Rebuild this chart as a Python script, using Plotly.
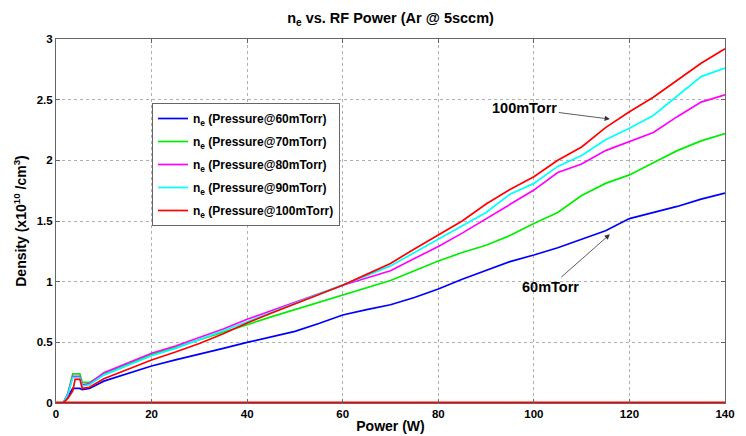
import plotly.graph_objects as go

power = [0, 1.5, 2.5, 3.5, 4, 5, 5.5, 7, 10, 15, 20, 25, 30, 35, 40, 45, 50, 55, 60, 65, 70,
         75, 80, 85, 90, 95, 100, 105, 110, 115, 120, 125, 130, 135, 140]

ne_60 = [0, 0, 0.05, 0.12, 0.12, 0.12, 0.11, 0.12, 0.18, 0.24, 0.305, 0.355, 0.40, 0.45, 0.50,
         0.545, 0.59, 0.655, 0.725, 0.77, 0.81, 0.87, 0.94, 1.02, 1.09, 1.165, 1.22, 1.28, 1.35,
         1.42, 1.52, 1.57, 1.62, 1.68, 1.73]
ne_70 = [0, 0, 0.08, 0.24, 0.24, 0.24, 0.17, 0.17, 0.24, 0.32, 0.40, 0.46, 0.52, 0.58, 0.645,
         0.71, 0.77, 0.83, 0.89, 0.95, 1.01, 1.09, 1.17, 1.24, 1.30, 1.38, 1.48, 1.57, 1.71,
         1.81, 1.88, 1.98, 2.08, 2.16, 2.22]
ne_80 = [0, 0, 0.08, 0.22, 0.22, 0.22, 0.15, 0.16, 0.25, 0.33, 0.41, 0.47, 0.54, 0.61, 0.69,
         0.76, 0.835, 0.90, 0.97, 1.03, 1.09, 1.19, 1.29, 1.40, 1.52, 1.64, 1.755, 1.90, 1.97,
         2.08, 2.155, 2.23, 2.36, 2.48, 2.54]
ne_90 = [0, 0, 0.07, 0.21, 0.21, 0.21, 0.14, 0.15, 0.23, 0.31, 0.39, 0.45, 0.52, 0.595, 0.67,
         0.745, 0.825, 0.90, 0.97, 1.05, 1.13, 1.24, 1.345, 1.46, 1.57, 1.72, 1.81, 1.95, 2.04,
         2.17, 2.265, 2.37, 2.53, 2.69, 2.76]
ne_100 = [0, 0, 0.04, 0.10, 0.195, 0.195, 0.12, 0.13, 0.20, 0.28, 0.355, 0.42, 0.49, 0.57, 0.66,
          0.74, 0.815, 0.89, 0.97, 1.06, 1.15, 1.27, 1.385, 1.50, 1.64, 1.76, 1.865, 2.00, 2.11,
          2.27, 2.40, 2.52, 2.66, 2.80, 2.92]

baseline_x = [0, 140]
baseline_y = [0, 0]

series = [
    ("60mTorr", ne_60, "#0000ff"),
    ("70mTorr", ne_70, "#00ee00"),
    ("80mTorr", ne_80, "#ff00ff"),
    ("90mTorr", ne_90, "#00ffff"),
    ("100mTorr", ne_100, "#ff0000"),
]

x_ticks = [0, 20, 40, 60, 80, 100, 120, 140]
y_ticks = [0, 0.5, 1, 1.5, 2, 2.5, 3]
y_tick_text = ["0", "0.5", "1", "1.5", "2", "2.5", "3"]

fig = go.Figure()
for i, (name, vals, col) in enumerate(series):
    fig.add_trace(go.Scatter(
        x=power, y=vals, mode="lines",
        line=dict(color=col, width=1.7),
        name="<b>n<sub>e</sub> (Pressure@%s)</b>" % name,
        legendgroup="g%d" % i,
    ))
fig.add_trace(go.Scatter(x=baseline_x, y=baseline_y, mode="lines",
                         line=dict(color="#ff0000", width=3), showlegend=False,
                         hoverinfo="skip"))

font_family = "Liberation Sans, Arial, sans-serif"

fig.update_layout(
    width=746, height=436,
    paper_bgcolor="white", plot_bgcolor="white",
    margin=dict(l=56, r=21, t=39, b=33),
    font=dict(family=font_family, size=11.5, color="black"),
    title=dict(text="<b>n<sub>e</sub> vs. RF Power (Ar @ 5sccm)</b>",
               x=(56 + 725) / 2 / 746, xanchor="center", y=1 - 18 / 436, yanchor="middle",
               font=dict(size=14.5, family=font_family)),
    showlegend=True,
    legend=dict(x=(152 - 56) / 669, y=(403 - 103) / 364, xanchor="left", yanchor="top",
                bgcolor="white", bordercolor="#666666", borderwidth=1,
                font=dict(size=12, family=font_family), tracegroupgap=4,
                itemwidth=30),
)

fig.update_xaxes(
    range=[0, 140], tickvals=x_ticks, ticktext=["<b>%d</b>" % v for v in x_ticks],
    showgrid=True, gridcolor="#b0b0b0", griddash="dot", gridwidth=1,
    showline=True, linecolor="#666666", linewidth=1, mirror="ticks",
    ticks="inside", ticklen=4, tickcolor="#666666",
    zeroline=False,
    title=dict(text="<b>Power (W)</b>", font=dict(size=14), standoff=2),
    automargin=False,
)
fig.update_yaxes(
    range=[0, 3], tickvals=y_ticks, ticktext=["<b>%s</b>" % t for t in y_tick_text],
    showgrid=True, gridcolor="#b0b0b0", griddash="dot", gridwidth=1,
    showline=True, linecolor="#666666", linewidth=1, mirror="ticks",
    ticks="inside", ticklen=4, tickcolor="#666666",
    zeroline=False,
    title=dict(text="<b>Density (x10<sup>10</sup> /cm<sup>3</sup>)</b>", font=dict(size=14), standoff=6),
    automargin=False,
)

fig.add_annotation(x=115.9, y=2.34, ax=98.1, ay=2.43, axref="x", ayref="y",
                   text="<b>100mTorr</b>", showarrow=True, arrowhead=2, arrowsize=1.3,
                   arrowwidth=0.8, arrowcolor="#333333", font=dict(size=14.5, color="black"))
fig.add_annotation(x=115.9, y=1.39, ax=103.5, ay=0.96, axref="x", ayref="y",
                   text="<b>60mTorr</b>", showarrow=True, arrowhead=2, arrowsize=1.3,
                   arrowwidth=0.8, arrowcolor="#333333", font=dict(size=14.5, color="black"))

fig.write_html("out.html", config={"displayModeBar": False},
               post_script="document.body.style.margin='0';")
